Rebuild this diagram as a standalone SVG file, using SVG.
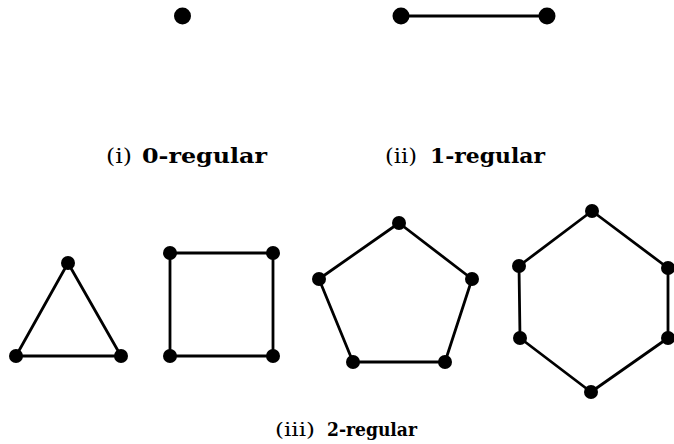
<svg xmlns="http://www.w3.org/2000/svg" width="674" height="444" viewBox="0 0 674 444">
<style>
.e{stroke:#000;stroke-width:2.8;fill:none;stroke-linecap:round;stroke-linejoin:round}
.v{fill:#000}
.t{font-family:"DejaVu Serif","Liberation Serif",serif;fill:#000}
.n{font-weight:normal}
.b{font-weight:bold}
</style>
<rect width="674" height="444" fill="#fff"/>
<g id="connectors">
<line class="e" x1="401" y1="16" x2="547" y2="16" style="stroke-width:3.2"/>
<polygon class="e" points="68,263 16,356 121,356"/>
<polygon class="e" points="170,253 273,253 273,356 170,356"/>
<polygon class="e" points="399,223 472,279 445,362 353,362 319,279"/>
<polygon class="e" points="592,211 668,268 668,338 591,392 520,338 519,266"/>
</g>
<g id="g0"><circle class="v" cx="182.5" cy="16" r="8.5"/></g>
<g id="g1a"><circle class="v" cx="401" cy="16" r="8.5"/></g>
<g id="g1b"><circle class="v" cx="547" cy="16" r="8.5"/></g>
<g id="tri">
<circle class="v" cx="68" cy="263" r="7"/>
<circle class="v" cx="16" cy="356" r="7"/>
<circle class="v" cx="121" cy="356" r="7"/>
</g>
<g id="sq">
<circle class="v" cx="170" cy="253" r="7"/>
<circle class="v" cx="273" cy="253" r="7"/>
<circle class="v" cx="273" cy="356" r="7"/>
<circle class="v" cx="170" cy="356" r="7"/>
</g>
<g id="pent">
<circle class="v" cx="399" cy="223" r="7"/>
<circle class="v" cx="472" cy="279" r="7"/>
<circle class="v" cx="445" cy="362" r="7"/>
<circle class="v" cx="353" cy="362" r="7"/>
<circle class="v" cx="319" cy="279" r="7"/>
</g>
<g id="hex">
<circle class="v" cx="592" cy="211" r="7"/>
<circle class="v" cx="668" cy="268" r="7"/>
<circle class="v" cx="668" cy="338" r="7"/>
<circle class="v" cx="591" cy="392" r="7"/>
<circle class="v" cx="520" cy="338" r="7"/>
<circle class="v" cx="519" cy="266" r="7"/>
</g>
<g id="labels">
<text class="t" font-size="21" y="163"><tspan class="n" x="106" textLength="26" lengthAdjust="spacingAndGlyphs">(i)</tspan><tspan class="b" x="142" textLength="125" lengthAdjust="spacingAndGlyphs">0-regular</tspan></text>
<text class="t" font-size="21" y="163"><tspan class="n" x="385" textLength="32" lengthAdjust="spacingAndGlyphs">(ii)</tspan><tspan class="b" x="430" textLength="115" lengthAdjust="spacingAndGlyphs">1-regular</tspan></text>
<text class="t" font-size="18" y="436"><tspan class="n" x="275" textLength="40" lengthAdjust="spacingAndGlyphs">(iii)</tspan><tspan class="b" x="327" textLength="90" lengthAdjust="spacingAndGlyphs">2-regular</tspan></text>
</g>
</svg>
